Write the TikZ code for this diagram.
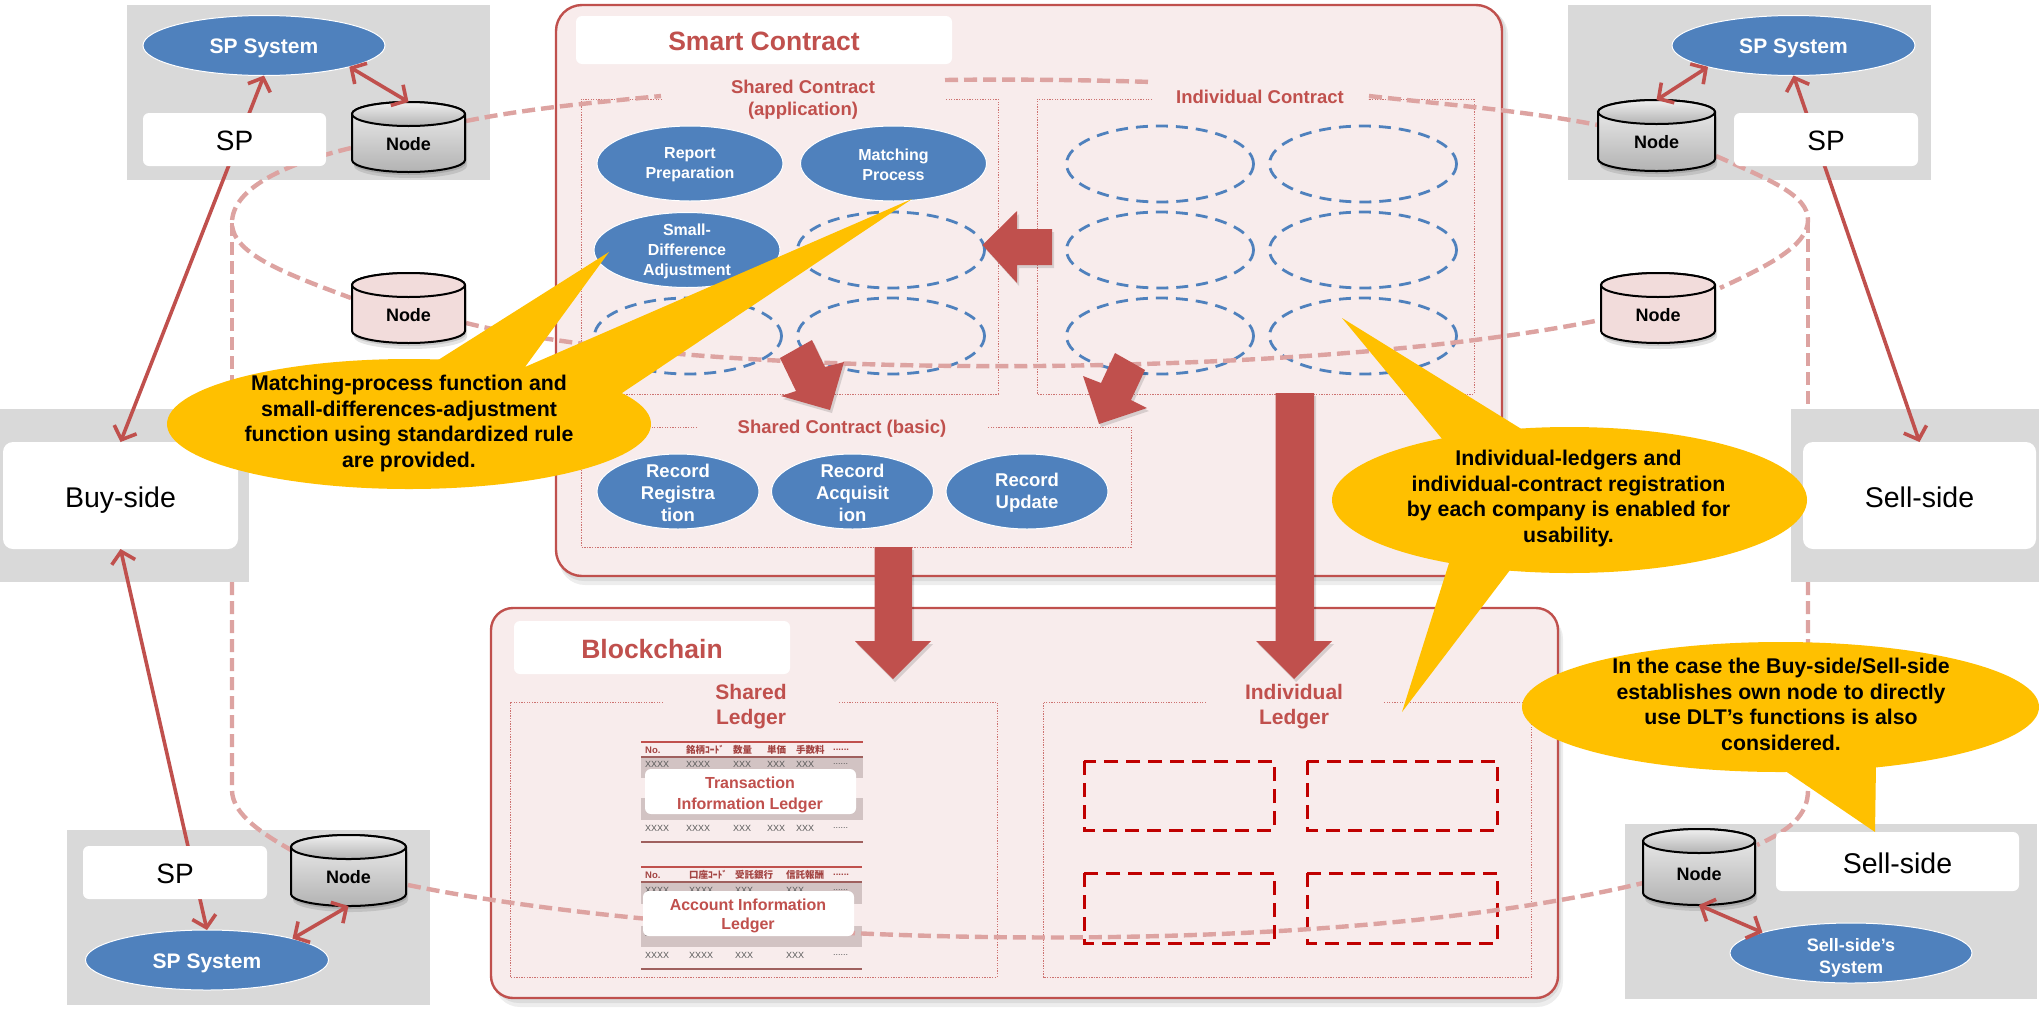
\documentclass[tikz,border=0pt]{standalone}
\usepackage{fontspec}
\setmainfont{Liberation Sans}
\newfontfamily\cjkf{Noto Sans CJK JP}
\usetikzlibrary{shapes.geometric,arrows.meta,calc}
\definecolor{cred}{HTML}{C0504D}
\definecolor{cblue}{HTML}{4F81BD}
\definecolor{cgrey}{HTML}{D9D9D9}
\definecolor{cpanel}{HTML}{F8ECEC}
\definecolor{cring}{HTML}{DDA3A1}
\definecolor{cgold}{HTML}{FFC000}
\definecolor{cband}{HTML}{D2C3C3}
\definecolor{cdash}{HTML}{C00000}
\definecolor{cpink}{HTML}{F2DCDB}
\newcommand\fsz[2]{\fontsize{#1}{#2}\selectfont}
\tikzset{
 panelbox/.style={fill=cpanel,draw=cred,line width=2.4pt,rounded corners=26pt},
 panelshadow/.style={fill=black,opacity=.07,rounded corners=26pt},
 greybox/.style={fill=cgrey,inner sep=0pt,outer sep=0pt},
 whitebox/.style={fill=white,rounded corners=6pt,inner sep=0pt,outer sep=0pt},
 frameline/.style={draw=cred!80,line width=.9pt,dash pattern=on 1.3pt off 1.3pt},
 ringline/.style={draw=cring,line width=4.4pt,dash pattern=on 13pt off 6pt},
 solidell/.style={ellipse,fill=cblue,draw=white,line width=1pt,inner sep=0pt,outer sep=0pt},
 dashell/.style={ellipse,draw=cblue,line width=2.8pt,dash pattern=on 12pt off 8pt,inner sep=0pt,outer sep=0pt},
 dashrect/.style={draw=cdash,line width=3pt,dash pattern=on 14pt off 8pt},
 wtxt/.style={text=white,align=center,inner sep=0pt},
 rtxt/.style={text=cred,align=center,inner sep=0pt,font=\bfseries},
 ktxt/.style={text=black,align=center,inner sep=0pt},
 calltxt/.style={text=black,align=center,inner sep=0pt,font=\bfseries\fsz{21.3}{25.7}},
 link/.style={draw=cred,line width=3.6pt,line cap=round,{Straight Barb[length=11pt,width=24pt]}-{Straight Barb[length=11pt,width=24pt]}},
 blockarrow/.style={fill=cred},
 blockshadow/.style={fill=black,opacity=.13},
 gold/.style={fill=cgold},
 hcell/.style={anchor=west,inner sep=0pt,text=cred!85!black,font=\bfseries\fsz{9.5}{11}},
 xcell/.style={anchor=west,inner sep=0pt,text=black!65,font=\fsz{9}{11}},
 cylgrey/.style={top color=black!6,bottom color=black!30},
 cylpink/.style={fill=cpink},
 sidelabel/.style={font=\fsz{28.5}{32},text height=23pt,text depth=0pt},
 splabel/.style={font=\fsz{28}{32},text height=21pt,text depth=0pt},
}
\newcommand\boxnode[7]{\node[#6,minimum width={#4-#2},minimum height={#5-#3}] (#1) at ({(#2+#4)/2},{(#3+#5)/2}) {#7};}
\newcommand\ellnode[7]{\node[#6,minimum width={2*#4},minimum height={2*#5}] (#1) at (#2,#3) {};
 \node[wtxt,font=\bfseries\fsz{16}{20}] (#1-t) at (#2,#3+1) {#7};}
\newcommand\cylnode[6]{%
 \pgfmathsetmacro\xa{#2}\pgfmathsetmacro\xb{#3}\pgfmathsetmacro\ya{#4+12}\pgfmathsetmacro\yb{#5-12}%
 \pgfmathsetmacro\xm{(#2+#3)/2}\pgfmathsetmacro\kx{.5523*(#3-#2)/2}%
 \pgfmathsetmacro\ytop{#4}\pgfmathsetmacro\ybot{#5}%
 \def\cylpath{(\xa,\ya) -- (\xa,\yb) .. controls (\xa,\yb+6.6) and (\xm-\kx,\ybot) .. (\xm,\ybot) .. controls (\xm+\kx,\ybot) and (\xb,\yb+6.6) .. (\xb,\yb) -- (\xb,\ya) .. controls (\xb,\ya-6.6) and (\xm+\kx,\ytop) .. (\xm,\ytop) .. controls (\xm-\kx,\ytop) and (\xa,\ya-6.6) .. cycle}%
 \fill[black,opacity=.10,shift={(2,6)}] \cylpath;
 \fill[black,opacity=.12,shift={(1,3)}] \cylpath;
 \path[#6] \cylpath;
 \draw[black,line width=2pt] \cylpath;
 \draw[black,line width=2pt,#6] (\xa,\ya) .. controls (\xa,\ya+6.6) and (\xm-\kx,\ya+12) .. (\xm,\ya+12) .. controls (\xm+\kx,\ya+12) and (\xb,\ya+6.6) .. (\xb,\ya) .. controls (\xb,\ya-6.6) and (\xm+\kx,\ytop) .. (\xm,\ytop) .. controls (\xm-\kx,\ytop) and (\xa,\ya-6.6) .. cycle;
 \node[minimum width={#3-#2},minimum height={#5-#4},inner sep=0pt,outer sep=0pt] (#1) at (\xm,{(#4+#5)/2}) {};
 \node[ktxt,font=\bfseries\fsz{18}{20}] (#1-t) at (\xm,{(#4+#5)/2+7}) {Node};
}
\begin{document}
\begin{tikzpicture}[x=1pt,y=-1pt,every node/.style={}]
\useasboundingbox (0,0) rectangle (2039,1010);
\fill[white] (0,0) rectangle (2039,1010);

% panels
\fill[panelshadow] (559,9) rectangle (1508,585);
\fill[panelshadow] (558,7) rectangle (1506,581);
\draw[panelbox] (556,5) rectangle (1502,576);
\fill[panelshadow] (494,613) rectangle (1563,1007);
\fill[panelshadow] (493,611) rectangle (1561,1003);
\draw[panelbox,rounded corners=22pt] (491,608) rectangle (1558,998);

% grey organisation boxes below the ring
\boxnode{spgrey}{127}{5}{490}{180}{greybox}{}
\boxnode{spgreyR}{1568}{5}{1931}{180}{greybox}{}
\boxnode{spgreyB}{67}{830}{430}{1005}{greybox}{}
\boxnode{sellgreyB}{1625}{824}{2037}{999}{greybox}{}

% titles of panels
\boxnode{smarttitle}{576}{16}{952}{64}{whitebox}{}
\node[rtxt,font=\bfseries\fsz{26.5}{30}] (smarttxt) at (764,41) {Smart Contract};
\boxnode{blocktitle}{514}{621}{790}{674}{whitebox}{}
\node[rtxt,font=\bfseries\fsz{26.5}{30}] (blocktxt) at (652,649) {Blockchain};

% dotted frames
\draw[frameline] (662,99) -- (581,99) -- (581,394) -- (998,394) -- (998,99) -- (945,99);
\draw[frameline] (1152,99) -- (1037,99) -- (1037,394) -- (1474,394) -- (1474,99) -- (1368,99);
\draw[frameline] (697,427) -- (581,427) -- (581,547) -- (1131,547) -- (1131,427) -- (987,427);
\draw[frameline] (663,702) -- (510,702) -- (510,977) -- (997,977) -- (997,702) -- (839,702);
\draw[frameline] (1206,702) -- (1043,702) -- (1043,977) -- (1531,977) -- (1531,702) -- (1383,702);

\node[rtxt,font=\bfseries\fsz{18.5}{22}] (sharedapp) at (803,99.5) {Shared Contract\\(application)};
\node[rtxt,font=\bfseries\fsz{18.5}{22}] (indiv) at (1260,97) {Individual Contract};
\node[rtxt,font=\bfseries\fsz{18.5}{22}] (sharedbasic) at (842,429) {Shared Contract (basic)};
\node[rtxt,font=\bfseries\fsz{21}{25.5}] (sharedled) at (751,706.5) {Shared\\Ledger};
\node[rtxt,font=\bfseries\fsz{21}{25.5}] (indivled) at (1294,706.5) {Individual\\Ledger};

% contract ellipses
\ellnode{rep}{690}{163.5}{93}{37.5}{solidell}{Report\\Preparation}
\ellnode{mat}{893.5}{163.5}{93}{37.5}{solidell}{Matching\\Process}
\ellnode{sma}{687}{250}{93}{37.5}{solidell}{Small-\\Difference\\Adjustment}
\node[dashell,minimum width=187,minimum height=76] (d1) at (891,250) {};
\node[dashell,minimum width=187,minimum height=76] (d2) at (688,336) {};
\node[dashell,minimum width=187,minimum height=76] (d3) at (891,336) {};
\foreach \cx/\cc in {1160/a,1363/b}{
 \foreach \cy/\rr in {164/x,250/y,336/z}{
  \node[dashell,minimum width=187,minimum height=76] (i\cc\rr) at (\cx,\cy) {};
 }
}
\node[solidell,minimum width=162,minimum height=75] (reg) at (678,491.5) {};
\node[wtxt,font=\bfseries\fsz{18.5}{22}] (reg-t) at (678,493) {Record\\Registra\\tion};
\node[solidell,minimum width=162,minimum height=75] (acq) at (852.5,491.5) {};
\node[wtxt,font=\bfseries\fsz{18.5}{22}] (acq-t) at (852.5,493) {Record\\Acquisit\\ion};
\node[solidell,minimum width=162,minimum height=75] (upd) at (1027,491.5) {};
\node[wtxt,font=\bfseries\fsz{18.5}{22}] (upd-t) at (1027,493) {Record\\Update};

% ledger dashed rects
\draw[dashrect] (1084,761) rectangle (1274,830);
\draw[dashrect] (1307,761) rectangle (1497,830);
\draw[dashrect] (1084,873) rectangle (1274,943);
\draw[dashrect] (1307,873) rectangle (1497,943);

% ledger tables
\fill[cband] (641,757) rectangle (863,778);
\fill[cband] (641,798) rectangle (863,820);
\draw[cred,line width=1.4pt] (641,742) -- (863,742);
\draw[cred!70!black!80,line width=2pt] (641,757) -- (863,757);
\draw[cred!70!black!80,line width=2pt] (641,842) -- (863,842);
\node[hcell] (t1h1) at (645,750) {No.};
\node[hcell] (t1h2) at (686,750) {\cjkf\bfseries 銘柄ｺｰﾄﾞ};
\node[hcell] (t1h3) at (733,750) {\cjkf\bfseries 数量};
\node[hcell] (t1h4) at (767,750) {\cjkf\bfseries 単価};
\node[hcell] (t1h5) at (796,750) {\cjkf\bfseries 手数料};
\node[hcell] (t1h6) at (833,750) {......};
\foreach \ry/\rn in {764/a,828/b}{
 \node[xcell] (t1\rn1) at (645,\ry) {XXXX};
 \node[xcell] (t1\rn2) at (686,\ry) {XXXX};
 \node[xcell] (t1\rn3) at (733,\ry) {XXX};
 \node[xcell] (t1\rn4) at (767,\ry) {XXX};
 \node[xcell] (t1\rn5) at (796,\ry) {XXX};
 \node[xcell] (t1\rn6) at (833,\ry) {......};
}
\fill[cband] (641,882) rectangle (862,904);
\fill[cband] (641,926) rectangle (862,947);
\draw[cred,line width=1.4pt] (641,867) -- (862,867);
\draw[cred!70!black!80,line width=2pt] (641,882) -- (862,882);
\draw[cred!70!black!80,line width=2pt] (641,969) -- (862,969);
\node[hcell] (t2h1) at (645,875) {No.};
\node[hcell] (t2h2) at (689,875) {\cjkf\bfseries 口座ｺｰﾄﾞ};
\node[hcell] (t2h3) at (735,875) {\cjkf\bfseries 受託銀行};
\node[hcell] (t2h4) at (786,875) {\cjkf\bfseries 信託報酬};
\node[hcell] (t2h5) at (833,875) {......};
\foreach \ry/\rn in {890/a,933/b,955/c}{
 \node[xcell] (t2\rn1) at (645,\ry) {XXXX};
 \node[xcell] (t2\rn2) at (689,\ry) {XXXX};
 \node[xcell] (t2\rn3) at (735,\ry) {XXX};
 \node[xcell] (t2\rn4) at (786,\ry) {XXX};
 \node[xcell] (t2\rn5) at (833,\ry) {......};
}

% ring
\coordinate (r1a) at (466,121); \coordinate (r1b) at (661,96);
\coordinate (r2a) at (945,80); \coordinate (r2b) at (1152,82);
\coordinate (r3a) at (1369,96); \coordinate (r3b) at (1598,125);
\coordinate (r4a) at (1716,156); \coordinate (r4m) at (1808,220); \coordinate (r4b) at (1720,288);
\coordinate (r5a) at (466,323); \coordinate (r5b) at (1600,320);
\coordinate (r6a) at (351,148); \coordinate (r6m) at (232,223); \coordinate (r6b) at (351,298);
\coordinate (r7a) at (232,409); \coordinate (r7b) at (291,850);
\coordinate (r8a) at (408,885); \coordinate (r8b) at (1643,883);
\coordinate (r9a) at (1808,409); \coordinate (r9b) at (1757,845);
\draw[ringline] (r1a) .. controls (530,108) and (600,102) .. (r1b);
\draw[ringline] (r2a) .. controls (1010,79) and (1090,80) .. (r2b);
\draw[ringline] (r3a) .. controls (1440,104) and (1520,110) .. (r3b);
\draw[ringline] (r4a) .. controls (1770,180) and (1808,195) .. (r4m) .. controls (1808,245) and (1770,265) .. (r4b);
\draw[ringline] (r5a) .. controls (700,381) and (1300,381) .. (r5b);
\draw[ringline] (r6a) .. controls (280,165) and (232,190) .. (r6m) .. controls (232,255) and (290,275) .. (r6b);
\draw[ringline] (r6m) -- (r7a);
\draw[ringline] (232,582) -- (232,790) .. controls (232,815) and (265,835) .. (r7b);
\draw[ringline] (r8a) .. controls (700,945) and (1300,965) .. (r8b);
\draw[ringline] (r4m) -- (r9a);
\draw[ringline] (1808,582) -- (1808,790) .. controls (1808,815) and (1790,830) .. (r9b);

% buy-/sell-side mid boxes
\boxnode{buygrey}{0}{409}{249}{582}{greybox}{}
\boxnode{sellgrey}{1791}{409}{2039}{582}{greybox}{}
\boxnode{buywhite}{3}{442}{238}{549}{whitebox,rounded corners=10pt,sidelabel}{Buy-side}
\boxnode{sellwhite}{1803}{442}{2036}{549}{whitebox,rounded corners=10pt,sidelabel}{Sell-side}

% systems
\node[solidell,minimum width=242,minimum height=60] (spsys) at (264,45.5) {};
\node[wtxt,font=\bfseries\fsz{21}{24}] (spsys-t) at (264,48.5) {SP System};
\node[solidell,minimum width=243,minimum height=60] (spsysR) at (1793.5,45.5) {};
\node[wtxt,font=\bfseries\fsz{21}{24}] (spsysR-t) at (1793.5,48.5) {SP System};
\node[solidell,minimum width=243,minimum height=60] (spsysB) at (207,960) {};
\node[wtxt,font=\bfseries\fsz{21}{24}] (spsysB-t) at (207,963) {SP System};
\node[solidell,minimum width=242,minimum height=60] (sellsys) at (1851,953) {};
\node[wtxt,font=\bfseries\fsz{18}{22}] (sellsys-t) at (1851,958) {Sell-side’s\\System};

% long links pass behind the white label boxes
\draw[link] (spsys.south) -- (buywhite.north);
\draw[link] (spsysR.south) -- (sellwhite.north);
\draw[link] (buywhite.south) -- (spsysB.north);

\boxnode{spwhite}{143}{113}{326}{166}{whitebox,splabel}{SP}
\boxnode{spwhiteR}{1734}{113}{1918}{166}{whitebox,splabel}{SP}
\boxnode{spwhiteB}{83}{846}{267}{899}{whitebox,splabel}{SP}
\boxnode{sellwhiteB}{1776}{832}{2019}{891}{whitebox,sidelabel}{Sell-side}

% nodes
\cylnode{n1}{352}{465}{102}{172}{cylgrey}
\cylnode{n2}{352}{465}{273}{343}{cylpink}
\cylnode{n3}{1598}{1715}{100}{171}{cylgrey}
\cylnode{n4}{1601}{1715}{273}{343}{cylpink}
\cylnode{n5}{291}{406}{835}{906}{cylgrey}
\cylnode{n6}{1643}{1755}{829}{905}{cylgrey}

\draw[link] (spsys.-14.5) -- (n1.north);
\draw[link] (spsysR.194.6) -- (n3.north);
\draw[link] (spsysB.14) -- (n5.south);
\draw[link] (sellsys.167) -- (n6.south);

% block arrows
\fill[blockshadow,shift={(2,3)}] (982.5,245) -- (1017,211) -- (1017,229) -- (1052,229) -- (1052,265) -- (1017,265) -- (1017,283) -- cycle;
\fill[blockarrow] (982.5,245) -- (1017,211) -- (1017,229) -- (1052,229) -- (1052,265) -- (1017,265) -- (1017,283) -- cycle;
\fill[blockshadow,shift={(2,3)}] (812,340) -- (825,367) -- (844,362) -- (830,410) -- (781,396) -- (796,391) -- (780,358) -- cycle;
\fill[blockarrow] (812,340) -- (825,367) -- (844,362) -- (830,410) -- (781,396) -- (796,391) -- (780,358) -- cycle;
\fill[blockshadow,shift={(2,3)}] (1115,353) -- (1145,370) -- (1131,400) -- (1147,408) -- (1099,424) -- (1083,376) -- (1101,383) -- cycle;
\fill[blockarrow] (1115,353) -- (1145,370) -- (1131,400) -- (1147,408) -- (1099,424) -- (1083,376) -- (1101,383) -- cycle;
\fill[blockshadow,shift={(2,3)}] (874.5,547) -- (912,547) -- (912,641) -- (931,641) -- (893,679) -- (855,641) -- (874.5,641) -- cycle;
\fill[blockarrow] (874.5,547) -- (912,547) -- (912,641) -- (931,641) -- (893,679) -- (855,641) -- (874.5,641) -- cycle;
\fill[blockshadow,shift={(2,3)}] (1275.5,393) -- (1314,393) -- (1314,641) -- (1332,641) -- (1294,679) -- (1256,641) -- (1275.5,641) -- cycle;
\fill[blockarrow] (1275.5,393) -- (1314,393) -- (1314,641) -- (1332,641) -- (1294,679) -- (1256,641) -- (1275.5,641) -- cycle;

% ledger white labels
\boxnode{trans}{645}{769}{856}{814}{whitebox}{}
\node[rtxt,font=\bfseries\fsz{16}{20.5}] (trans-t) at (750,795) {Transaction\\Information Ledger};
\boxnode{acct}{643}{891}{854}{936}{whitebox}{}
\node[rtxt,font=\bfseries\fsz{16}{19.5}] (acct-t) at (748,916) {Account Information\\Ledger};

% callouts
\fill[gold] (409,424) ellipse [x radius=242,y radius=65];
\fill[gold] (435,362) -- (609,252) -- (525,367) -- (912,199) -- (619,395) -- cycle;
\fill[gold] (1569.5,500) ellipse [x radius=237.5,y radius=73];
\fill[gold] (1443,440) -- (1342,318) -- (1523,430) -- cycle;
\fill[gold] (1450,560) -- (1402,712) -- (1510,570) -- cycle;
\fill[gold] (1780.5,707) ellipse [x radius=258.5,y radius=65];
\fill[gold] (1781,768) -- (1875,832) -- (1876,764) -- cycle;

\node[calltxt] (c1) at (409,423.5) {Matching-process function and\\small-differences-adjustment\\function using standardized rule\\are provided.};
\node[calltxt] (c2) at (1568.5,498.5) {Individual-ledgers and\\individual-contract registration\\by each company is enabled for\\usability.};
\node[calltxt] (c3) at (1781,704.5) {In the case the Buy-side/Sell-side\\establishes own node to directly\\use DLT’s functions is also\\considered.};
\end{tikzpicture}
\end{document}
